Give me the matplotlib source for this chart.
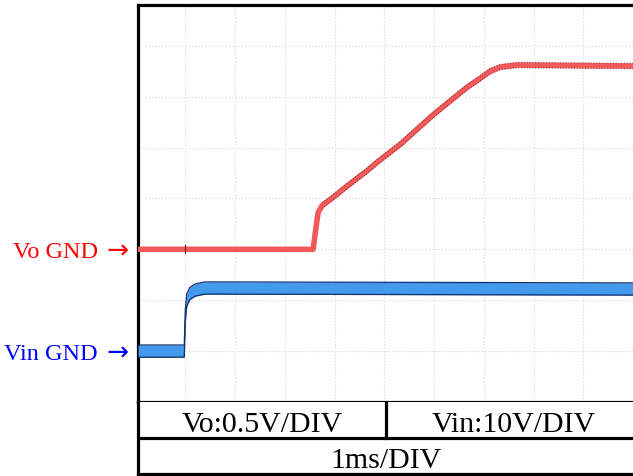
import numpy as np
import matplotlib
matplotlib.use("Agg")
import matplotlib.pyplot as plt

SERIF = ["Liberation Serif", "DejaVu Serif"]
RED, BLUE_FILL, NAVY = "#f25a5a", "#4399ec", "#13306e"

# scope settings (V/div) and ground marker levels (div)
VO_SCALE, VIN_SCALE = 0.5, 10.0
VO_GND, VIN_GND = 3.0, 1.0
TRIG_T = 1.0  # ms, small trigger glitch on Vo

# Vo trace read from the capture: time (ms), voltage (V)
vo_t = [0.05, 3.57, 3.63, 3.67, 3.75, 3.97, 4.25, 4.65, 4.92, 5.32, 5.98, 6.66, 6.93, 7.13, 7.33, 7.67, 10.04]
vo_v = [0.0, 0.0, 0.22, 0.36, 0.43, 0.51, 0.62, 0.77, 0.88, 1.03, 1.32, 1.59, 1.68, 1.75, 1.79, 1.81, 1.80]

# Vin trace: time (ms), voltage (V)
vin_t = [0.05, 0.98, 1.0, 1.03, 1.09, 1.2, 1.4, 10.04]
vin_v = [0.0, 0.0, 7.0, 10.0, 11.3, 12.0, 12.4, 12.2]

gnd_labels = ["Vo GND", "Vin GND"]
row1 = ["Vo:0.5V/DIV", "Vin:10V/DIV"]
row2 = "1ms/DIV"

W, H = 633, 477
fig = plt.figure(figsize=(W / 100, H / 100), dpi=100)
ax = fig.add_axes([138 / W, 74 / H, 497 / W, 397 / H])
ax.set_xlim(0.05, 10.04); ax.set_ylim(0, 7.8)
ax.set_xticks(range(1, 10)); ax.set_yticks(range(1, 8))
ax.tick_params(length=0, labelbottom=False, labelleft=False)
ax.grid(True, color="#e2e2e2", ls=(0, (1.5, 1.5)), lw=0.8)
for s in ("left", "top", "bottom"):
    ax.spines[s].set_linewidth(2.3)
ax.spines["right"].set_visible(False)

# Vin: noisy envelope band
vt = np.array(vin_t); vd = VIN_GND + np.array(vin_v) / VIN_SCALE
band = 0.12
ax.fill_between(vt, vd - band, vd + band, color=BLUE_FILL, lw=0, zorder=3)
ax.plot(vt, vd + band, color=NAVY, lw=0.9, zorder=4)
ax.plot(vt, vd - band, color=NAVY, lw=0.9, zorder=4)

# Vo: thick trace, speckled edges after the start-up
ot = np.array(vo_t); od = VO_GND + np.array(vo_v) / VO_SCALE
ax.plot(ot, od, color=RED, lw=4, solid_capstyle="butt", zorder=5)
m = ot >= 3.7
ax.plot(ot[m], od[m] + 0.055, color="#4a0f0f", lw=0.8, ls=(0, (1, 1.5)), alpha=0.55, zorder=6)
ax.plot(ot[m], od[m] - 0.055, color="#4a0f0f", lw=0.8, ls=(0, (1, 1.5)), alpha=0.55, zorder=6)
ax.plot([TRIG_T, TRIG_T], [VO_GND - 0.08, VO_GND + 0.08], color="#7a2020", lw=0.9, zorder=6)

# ground markers on the left: label + arrow
for lab, lvl, col in zip(gnd_labels, [VO_GND, VIN_GND], ["#ff0000", "#0000ff"]):
    ax.annotate(lab, xy=(0, lvl), xycoords=("axes fraction", "data"),
                xytext=(-40, 0), textcoords="offset pixels", ha="right", va="center_baseline",
                color=col, fontsize=17.5, family=SERIF, annotation_clip=False)
    ax.annotate("→", xy=(0, lvl), xycoords=("axes fraction", "data"),
                xytext=(-9, -1), textcoords="offset pixels", ha="right", va="center",
                color=col, fontsize=19, family="DejaVu Sans", annotation_clip=False)

# scale table under the screen
tab = fig.add_axes([138 / W, 2 / H, 497 / W, 72 / H])
tab.set_xlim(0, 1); tab.set_ylim(0, 1)
tab.set_xticks([]); tab.set_yticks([])
for s in ("left", "bottom"):
    tab.spines[s].set_linewidth(2.3)
tab.spines["top"].set_visible(False); tab.spines["right"].set_visible(False)
tab.axhline(0.5, color="black", lw=2.3)
tab.plot([0.5, 0.5], [0.5, 1], color="black", lw=2.3)
tab.text(0.25, 0.74, row1[0], ha="center", va="center_baseline", fontsize=21.5, family=SERIF)
tab.text(0.755, 0.74, row1[1], ha="center", va="center_baseline", fontsize=21.5, family=SERIF)
tab.text(0.5, 0.24, row2, ha="center", va="center_baseline", fontsize=21.5, family=SERIF)

fig.savefig("out.png", dpi=100)
